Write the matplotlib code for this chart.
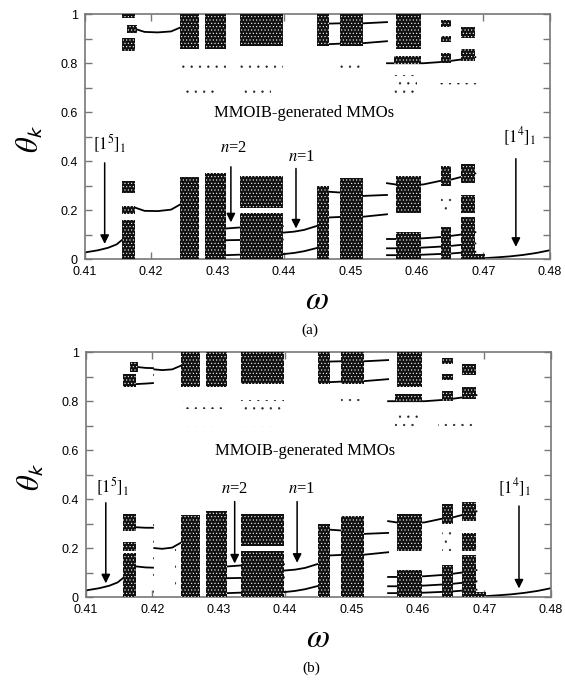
import numpy as np
import matplotlib
matplotlib.use('Agg')
import matplotlib.pyplot as plt

plt.rcParams['mathtext.fontset'] = 'stix'
plt.rcParams['hatch.linewidth'] = 0.4

# ---------------- datos ----------------
# bandas caoticas densas: (omega_ini, omega_fin, theta_min, theta_max)
bandas_comunes = [
    # 0.424 - 0.440
    (0.4243, 0.4272, 0.00, 0.335), (0.4243, 0.4272, 0.86, 1.00),
    (0.4281, 0.4313, 0.00, 0.350), (0.4281, 0.4313, 0.86, 1.00),
    (0.4333, 0.4398, 0.00, 0.190), (0.4333, 0.4398, 0.21, 0.34),
    (0.4333, 0.4398, 0.87, 1.00),
    # 0.445 - 0.452
    (0.4449, 0.4468, 0.00, 0.300), (0.4449, 0.4468, 0.87, 1.00),
    (0.4484, 0.4519, 0.00, 0.330), (0.4484, 0.4519, 0.87, 1.00),
    # 0.456 - 0.461
    (0.4568, 0.4606, 0.19, 0.340), (0.4568, 0.4606, 0.86, 1.00),
    (0.4566, 0.4606, 0.795, 0.83), (0.4568, 0.4606, 0.00, 0.11),
    # 0.463 - 0.470
    (0.4636, 0.4652, 0.30, 0.38), (0.4636, 0.4652, 0.00, 0.13),
    (0.4636, 0.4652, 0.95, 0.975), (0.4636, 0.4652, 0.885, 0.91),
    (0.4636, 0.4652, 0.80, 0.84),
    (0.4666, 0.4688, 0.31, 0.39), (0.4666, 0.4688, 0.19, 0.26),
    (0.4666, 0.4688, 0.00, 0.17), (0.4688, 0.4703, 0.00, 0.02),
    (0.4666, 0.4688, 0.905, 0.95), (0.4666, 0.4688, 0.81, 0.86),
]
# puntos dispersos (poca densidad)
dispersos_comunes = [
    (0.4243, 0.4313, 0.77, 0.80), (0.4333, 0.4398, 0.765, 0.805),
    (0.4245, 0.4300, 0.68, 0.70), (0.4340, 0.4380, 0.68, 0.70),
    (0.4484, 0.4519, 0.78, 0.81), (0.4565, 0.4600, 0.68, 0.75),
    (0.4636, 0.4652, 0.19, 0.27), (0.4630, 0.4690, 0.70, 0.72),
]
bandas_a = [
    (0.4156, 0.4176, 0.00, 0.16), (0.4156, 0.4176, 0.185, 0.215),
    (0.4156, 0.4176, 0.27, 0.32), (0.4156, 0.4176, 0.85, 0.905),
    (0.4163, 0.4178, 0.925, 0.955), (0.4156, 0.4176, 0.985, 1.00),
]
dispersos_a = []
bandas_b = [
    (0.4156, 0.4176, 0.00, 0.178), (0.4156, 0.4176, 0.19, 0.225),
    (0.4156, 0.4176, 0.27, 0.34), (0.4156, 0.4176, 0.857, 0.91),
    (0.4166, 0.4178, 0.92, 0.96),
]
dispersos_b = [
    (0.4199, 0.4203, 0.00, 0.30), (0.4199, 0.4203, 0.85, 0.95),
    (0.4234, 0.4238, 0.00, 0.20), (0.4156, 0.4176, 0.985, 1.00),
]

# ramas periodicas: (omega, theta)
ramas_comunes = [
    # [1^5]_1
    ([0.410, 0.412, 0.4135, 0.4148, 0.4157], [0.027, 0.036, 0.046, 0.060, 0.080]),
    # n=2
    ([0.4313, 0.4333, 0.4360, 0.4398], [0.125, 0.129, 0.131, 0.134]),
    ([0.4313, 0.4333, 0.4360, 0.4398], [0.077, 0.078, 0.079, 0.080]),
    ([0.4313, 0.4333, 0.4360, 0.4398], [0.016, 0.018, 0.019, 0.020]),
    # n=1
    ([0.4398, 0.4415, 0.4430, 0.4449], [0.108, 0.112, 0.119, 0.135]),
    ([0.4398, 0.4415, 0.4430, 0.4449], [0.020, 0.025, 0.032, 0.045]),
    # 0.445 - 0.4555
    ([0.4468, 0.4484, 0.4519, 0.4555], [0.962, 0.963, 0.963, 0.968]),
    ([0.4468, 0.4484, 0.4519, 0.4555], [0.878, 0.880, 0.882, 0.890]),
    ([0.4468, 0.4484, 0.4519, 0.4555], [0.275, 0.272, 0.258, 0.262]),
    ([0.4468, 0.4484, 0.4519, 0.4555], [0.170, 0.172, 0.173, 0.183]),
    # 0.4555 - 0.469
    ([0.4555, 0.4580, 0.4610, 0.4636, 0.4652, 0.4666, 0.4688],
     [0.310, 0.300, 0.305, 0.320, 0.325, 0.335, 0.350]),
    ([0.4555, 0.4580, 0.4610, 0.4636, 0.4652, 0.4666, 0.4688],
     [0.800, 0.800, 0.800, 0.805, 0.810, 0.815, 0.825]),
    ([0.4555, 0.4580, 0.4610, 0.4636, 0.4652, 0.4666, 0.4688],
     [0.082, 0.082, 0.085, 0.090, 0.095, 0.100, 0.110]),
    ([0.4555, 0.4580, 0.4610, 0.4636, 0.4652, 0.4666, 0.4688],
     [0.044, 0.044, 0.047, 0.051, 0.054, 0.058, 0.064]),
    ([0.4555, 0.4580, 0.4610, 0.4636, 0.4652, 0.4666, 0.4688],
     [0.016, 0.016, 0.018, 0.021, 0.023, 0.026, 0.030]),
    # [1^4]_1
    ([0.4703, 0.472, 0.474, 0.476, 0.478, 0.480], [0.004, 0.007, 0.011, 0.017, 0.025, 0.036]),
]
ramas_a = [
    ([0.4176, 0.419, 0.421, 0.423, 0.4243], [0.940, 0.928, 0.926, 0.930, 0.945]),
    ([0.4176, 0.419, 0.421, 0.423, 0.4243], [0.210, 0.197, 0.196, 0.202, 0.222]),
]
ramas_b = [
    ([0.4176, 0.4190, 0.4201], [0.940, 0.936, 0.935]),
    ([0.4176, 0.4190, 0.4201], [0.870, 0.872, 0.874]),
    ([0.4176, 0.4190, 0.4201], [0.285, 0.283, 0.283]),
    ([0.4176, 0.4190, 0.4201], [0.125, 0.121, 0.120]),
    ([0.4203, 0.4215, 0.4230, 0.4243], [0.930, 0.927, 0.930, 0.945]),
    ([0.4203, 0.4215, 0.4230, 0.4243], [0.200, 0.197, 0.202, 0.222]),
]

# etiquetas: (texto, omega, theta) y flechas: (omega, theta_ini, theta_fin)
etiquetas_a = [(r'$[1^5]_1$', 0.4138, 0.47), (r'$n$=2', 0.4324, 0.452),
               (r'$n$=1', 0.4427, 0.418), (r'$[1^4]_1$', 0.4755, 0.50)]
flechas_a = [(0.4130, 0.393, 0.062), (0.4320, 0.377, 0.150),
             (0.4418, 0.370, 0.125), (0.4749, 0.410, 0.050)]
etiquetas_b = [(r'$[1^5]_1$', 0.4140, 0.45), (r'$n$=2', 0.4324, 0.443),
               (r'$n$=1', 0.4425, 0.443), (r'$[1^4]_1$', 0.4745, 0.445)]
flechas_b = [(0.4130, 0.385, 0.056), (0.4324, 0.390, 0.137),
             (0.4418, 0.390, 0.140), (0.4752, 0.372, 0.035)]


def dibujar_panel(ax, bandas, dispersos, ramas, etiquetas, flechas, letra):
    for w, th in ramas:
        ax.plot(w, th, color='black', lw=1.3, zorder=2)
    for w0, w1, t0, t1 in bandas:
        ax.bar(w0, t1 - t0, width=w1 - w0, bottom=t0, align='edge',
               facecolor='#111111', edgecolor='white', hatch='.....', linewidth=0, zorder=3)
    for w0, w1, t0, t1 in dispersos:
        ax.bar(w0, t1 - t0, width=w1 - w0, bottom=t0, align='edge',
               facecolor='none', edgecolor='#222222', hatch='..', linewidth=0, zorder=3)
    for txt, w, th in etiquetas:
        ax.text(w, th, txt, ha='center', va='center', fontsize=12,
                family='Liberation Serif', zorder=5)
    for w, t0, t1 in flechas:
        ax.annotate('', xy=(w, t1), xytext=(w, t0),
                    arrowprops=dict(arrowstyle='-|>', color='black', lw=1.1,
                                    mutation_scale=13, shrinkA=0, shrinkB=0), zorder=5)
    ax.text(0.443, 0.595, 'MMOIB-generated MMOs', ha='center', va='center',
            fontsize=12, family='Liberation Serif', zorder=5)

    ax.set_xlim(0.41, 0.48)
    ax.set_ylim(0, 1)
    ax.set_xticks(np.arange(0.41, 0.4801, 0.01))
    ax.set_xticklabels(['0.41', '0.42', '0.43', '0.44', '0.45', '0.46', '0.47', '0.48'])
    ax.set_yticks([0, 0.2, 0.4, 0.6, 0.8, 1.0])
    ax.set_yticklabels(['0', '0.2', '0.4', '0.6', '0.8', '1'])
    ax.set_yticks(np.arange(0.1, 1.0, 0.2), minor=True)
    ax.tick_params(which='both', direction='in', top=True, right=True, length=5,
                   color='#777777', width=1, labelsize=9, pad=5)
    for lbl in ax.get_xticklabels() + ax.get_yticklabels():
        lbl.set_family('Liberation Sans')
    for s in ax.spines.values():
        s.set_color('#777777')
        s.set_linewidth(1.2)
    ax.text(-0.118, 0.49, r'$\theta_{\mathsf{k}}$', transform=ax.transAxes,
            rotation=90, ha='center', va='center', fontsize=22)
    ax.text(0.5, -0.165, r'$\omega$', transform=ax.transAxes,
            ha='center', va='center', fontsize=24)
    ax.text(0.485, -0.29, letra, transform=ax.transAxes, ha='center', va='center',
            fontsize=11, family='Liberation Serif')


fig = plt.figure(figsize=(5.65, 6.8), dpi=100)
ax_a = fig.add_axes([0.150, 0.619, 0.823, 0.360])
ax_b = fig.add_axes([0.152, 0.122, 0.823, 0.360])

dibujar_panel(ax_a, bandas_comunes + bandas_a, dispersos_comunes + dispersos_a,
              ramas_comunes + ramas_a, etiquetas_a, flechas_a, '(a)')
dibujar_panel(ax_b, bandas_comunes + bandas_b, dispersos_comunes + dispersos_b,
              ramas_comunes + ramas_b, etiquetas_b, flechas_b, '(b)')

fig.savefig('out.png', dpi=100)
